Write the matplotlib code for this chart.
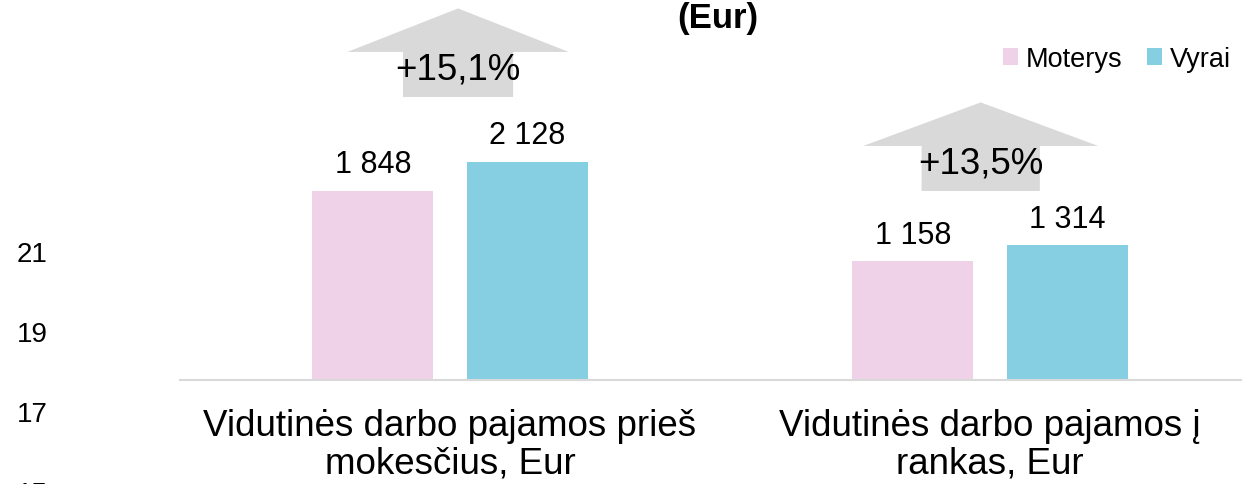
import matplotlib
matplotlib.use("Agg")
import matplotlib.pyplot as plt
import numpy as np

plt.rcParams['font.family'] = ['Liberation Sans', 'DejaVu Sans']

# data
categories = ["Vidutinės darbo pajamos prieš\nmokesčius, Eur",
              "Vidutinės darbo pajamos į\nrankas, Eur"]
series_names = ["Moterys", "Vyrai"]
moterys = [1848, 1158]
vyrai = [2128, 1314]
gap_labels = ["+15,1%", "+13,5%"]
stray_ticks = [15, 17, 19, 21]

pink = "#f0d2e8"
cyan = "#86cee2"
grey = "#d9d9d9"

W, H = 1243, 485
fig = plt.figure(figsize=(W / 100, H / 100), dpi=100)

# main axes: baseline at y=381px, spans to the top of the figure
ax = fig.add_axes([180 / W, (H - 381) / H, (1241 - 180) / W, 381 / H])
ax.set_xlim(-0.5, 1.465)
ax.set_ylim(0, 3721)

x = np.arange(len(categories))
bw = 0.224
off = 0.143
b1 = ax.bar(x - off, moterys, bw, color=pink, label=series_names[0])
b2 = ax.bar(x + off, vyrai, bw, color=cyan, label=series_names[1])

def fmt(v):
    return f"{v:,}".replace(",", " ")

for bars, vals in [(b1, moterys), (b2, vyrai)]:
    for r, v in zip(bars, vals):
        ax.annotate(fmt(v), (r.get_x() + r.get_width() / 2, v),
                    xytext=(0, 13.5), textcoords="offset points",
                    ha="center", va="baseline", fontsize=22)

# up arrows with percentage gap
arrow_x = [0.015, 0.983]
arrow_bottom = [2764, 1846]
head_w = [0.41, 0.435]
shaft_w = [0.204, 0.219]
shaft_h = 440
head_h = 425
for cx, yb, hw, sw, lab in zip(arrow_x, arrow_bottom, head_w, shaft_w, gap_labels):
    xs = [cx - sw / 2, cx + sw / 2, cx + sw / 2, cx + hw / 2, cx,
          cx - hw / 2, cx - sw / 2]
    ys = [yb, yb, yb + shaft_h, yb + shaft_h, yb + shaft_h + head_h,
          yb + shaft_h, yb + shaft_h]
    ax.fill(xs, ys, color=grey, lw=0, zorder=1, clip_on=False)
    ax.text(cx, yb + shaft_h * 0.62, lab, ha="center", va="center",
            fontsize=26.5, zorder=3)

ax.set_xticks(x)
ax.set_xticklabels(categories, fontsize=26.5, linespacing=1.1)
ax.tick_params(axis="x", length=0, pad=20)
ax.set_yticks([])
for s in ["top", "right", "left"]:
    ax.spines[s].set_visible(False)
ax.spines["bottom"].set_color(grey)
ax.spines["bottom"].set_linewidth(1.5)

# stray axis labels on the left
ax2 = fig.add_axes([48 / W, -40 / H, 0.001, 565 / H])
ax2.set_ylim(14.175, 28.3)
ax2.set_yticks(stray_ticks)
ax2.set_yticklabels([str(t) for t in stray_ticks], fontsize=20)
ax2.tick_params(axis="y", length=0, pad=0)
ax2.set_xticks([])
for s in ax2.spines.values():
    s.set_visible(False)
ax2.patch.set_visible(False)

fig.text(718 / W, 1 - 28 / H, "(Eur)", ha="center", va="baseline",
         fontsize=25, fontweight="bold")

fig.legend(handles=[b1, b2], labels=series_names, loc="center right",
           bbox_to_anchor=(1231 / W, 1 - 60 / H), ncol=2, frameon=False,
           fontsize=19.5, handlelength=0.55, handleheight=0.55,
           handletextpad=0.3, columnspacing=0.9, borderpad=0,
           borderaxespad=0)

fig.savefig("out.png", dpi=100)
